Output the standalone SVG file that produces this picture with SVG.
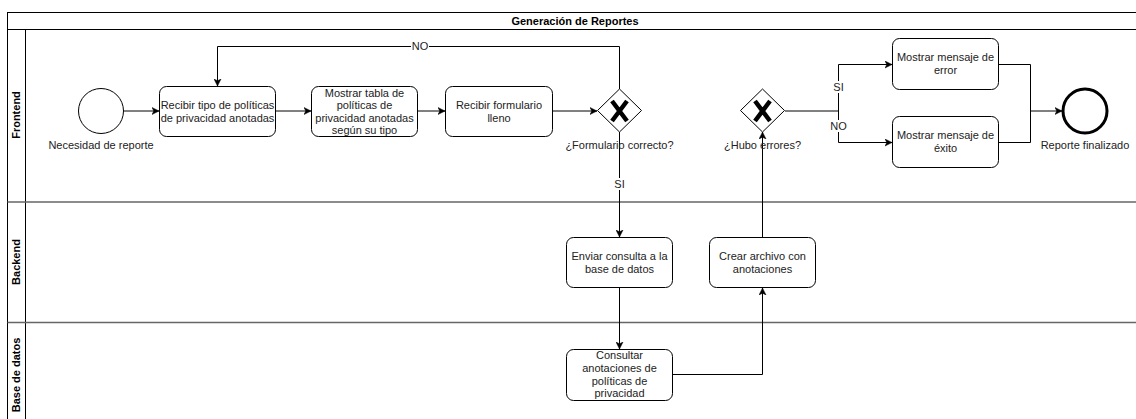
<svg xmlns="http://www.w3.org/2000/svg" width="1136" height="419" viewBox="0 0 1136 419">
<style>
  .t { font-family: "Liberation Sans", Arial, sans-serif; font-size: 11px; fill: #222; text-anchor: middle; }
  .b { font-weight: bold; fill: #000; }
  .task { fill: #fff; stroke: #000; stroke-width: 1; }
  .edge { fill: none; stroke: #000; stroke-width: 1; }
  .lane { fill: none; stroke: #000; stroke-width: 1; }
  .div { stroke: #666; stroke-width: 1.5; }
  .lbl { fill: #fff; }
</style>
<defs>
  <marker id="arr" markerWidth="8" markerHeight="8" refX="7" refY="4" orient="auto" markerUnits="userSpaceOnUse">
    <path d="M0,0.5 L7,4 L0,7.5 L1.8,4 Z" fill="#000" stroke="#000" stroke-width="0.5"/>
  </marker>
</defs>
<rect width="1136" height="419" fill="#fff"/>

<g id="pool">
  <rect class="lane" x="7.5" y="12.5" width="1140" height="420"/>
  <line class="lane" x1="7.5" y1="29.5" x2="1147" y2="29.5"/>
  <line class="lane" x1="25.5" y1="29.5" x2="25.5" y2="432"/>
  <line class="div" x1="7.5" y1="202" x2="1147" y2="202"/>
  <line class="div" x1="7.5" y1="322.5" x2="1147" y2="322.5"/>
  <text class="t b" x="575" y="24.5">Generación de Reportes</text>
  <text class="t b" transform="translate(20,115) rotate(-90)">Frontend</text>
  <text class="t b" transform="translate(20,262) rotate(-90)">Backend</text>
  <text class="t b" transform="translate(20,375) rotate(-90)">Base de datos</text>
</g>

<g id="connectors">
  <path class="edge" d="M124,111 L159,111" marker-end="url(#arr)"/>
  <path class="edge" d="M276,111 L311,111" marker-end="url(#arr)"/>
  <path class="edge" d="M418,111 L445,111" marker-end="url(#arr)"/>
  <path class="edge" d="M553,111 L597,111" marker-end="url(#arr)"/>
  <path class="edge" d="M619.5,89 L619.5,46.5 L217.5,46.5 L217.5,86" marker-end="url(#arr)"/>
  <rect class="lbl" x="411" y="40" width="18" height="12"/>
  <text class="t" x="420" y="50">NO</text>
  <path class="edge" d="M619.5,132 L619.5,237" marker-end="url(#arr)"/>
  <rect class="lbl" x="613" y="178" width="13" height="12"/>
  <text class="t" x="619.5" y="188">SI</text>
  <path class="edge" d="M619.5,288 L619.5,349" marker-end="url(#arr)"/>
  <path class="edge" d="M673,374.5 L762.5,374.5 L762.5,288" marker-end="url(#arr)"/>
  <path class="edge" d="M762.5,237 L762.5,132" marker-end="url(#arr)"/>
  <path class="edge" d="M785,111 L838.5,111 L838.5,64.5 L892,64.5" marker-end="url(#arr)"/>
  <path class="edge" d="M838.5,111 L838.5,142.5 L892,142.5" marker-end="url(#arr)"/>
  <rect class="lbl" x="832" y="81" width="13" height="12"/>
  <text class="t" x="838.5" y="91">SI</text>
  <rect class="lbl" x="829" y="120" width="19" height="12"/>
  <text class="t" x="838.5" y="130">NO</text>
  <path class="edge" d="M999,64.5 L1030.5,64.5 L1030.5,111 L1062,111" marker-end="url(#arr)"/>
  <path class="edge" d="M999,142.5 L1030.5,142.5 L1030.5,111"/>
</g>

<g id="start">
  <circle cx="101" cy="111" r="22.5" fill="#fff" stroke="#000" stroke-width="1"/>
  <text class="t" x="101" y="149">Necesidad de reporte</text>
</g>

<g id="task1">
  <rect class="task" x="159.5" y="86.5" width="116" height="50" rx="7"/>
  <text class="t" x="217.5" y="109">Recibir tipo de políticas</text>
  <text class="t" x="217.5" y="122">de privacidad anotadas</text>
</g>

<g id="task2">
  <rect class="task" x="311.5" y="86.5" width="106" height="50" rx="7"/>
  <text class="t" x="364.5" y="97">Mostrar tabla de</text>
  <text class="t" x="364.5" y="109">políticas de</text>
  <text class="t" x="364.5" y="122">privacidad anotadas</text>
  <text class="t" x="364.5" y="134">según su tipo</text>
</g>

<g id="task3">
  <rect class="task" x="445.5" y="86.5" width="107" height="50" rx="7"/>
  <text class="t" x="499" y="109">Recibir formulario</text>
  <text class="t" x="499" y="122">lleno</text>
</g>

<g id="gateway1">
  <path d="M619.5,89 L641.5,110.5 L619.5,132 L597.5,110.5 Z" fill="#fff" stroke="#000" stroke-width="1"/>
  <path d="M612,101 L627,121 M627,101 L612,121" stroke="#000" stroke-width="4.5" fill="none"/>
  <text class="t" x="619.5" y="149">¿Formulario correcto?</text>
</g>

<g id="gateway2">
  <path d="M762.5,89 L784.5,110.5 L762.5,132 L740.5,110.5 Z" fill="#fff" stroke="#000" stroke-width="1"/>
  <path d="M755,101 L770,121 M770,101 L755,121" stroke="#000" stroke-width="4.5" fill="none"/>
  <text class="t" x="762.5" y="149">¿Hubo errores?</text>
</g>

<g id="task-error">
  <rect class="task" x="892.5" y="38.5" width="106" height="51" rx="7"/>
  <text class="t" x="945.5" y="61">Mostrar mensaje de</text>
  <text class="t" x="945.5" y="74">error</text>
</g>

<g id="task-exito">
  <rect class="task" x="892.5" y="116.5" width="106" height="51" rx="7"/>
  <text class="t" x="945.5" y="139">Mostrar mensaje de</text>
  <text class="t" x="945.5" y="152">éxito</text>
</g>

<g id="end">
  <circle cx="1085" cy="111" r="22" fill="#fff" stroke="#000" stroke-width="3"/>
  <text class="t" x="1085" y="149">Reporte finalizado</text>
</g>

<g id="task-enviar">
  <rect class="task" x="566.5" y="237.5" width="106" height="50" rx="7"/>
  <text class="t" x="619.5" y="260">Enviar consulta a la</text>
  <text class="t" x="619.5" y="273">base de datos</text>
</g>

<g id="task-crear">
  <rect class="task" x="709.5" y="237.5" width="106" height="50" rx="7"/>
  <text class="t" x="762.5" y="260">Crear archivo con</text>
  <text class="t" x="762.5" y="273">anotaciones</text>
</g>

<g id="task-consultar">
  <rect class="task" x="566.5" y="349.5" width="106" height="51" rx="7"/>
  <text class="t" x="619.5" y="359">Consultar</text>
  <text class="t" x="619.5" y="372">anotaciones de</text>
  <text class="t" x="619.5" y="385">políticas de</text>
  <text class="t" x="619.5" y="397">privacidad</text>
</g>
</svg>
